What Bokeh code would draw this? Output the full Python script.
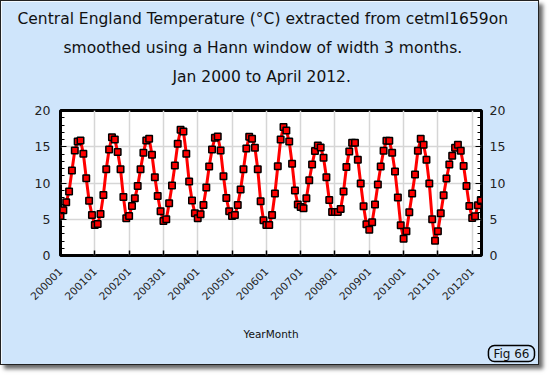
import math
from bokeh.plotting import figure
from bokeh.models import Range1d, FixedTicker, LinearAxis, Title, ColumnDataSource
from bokeh.embed import file_html
from bokeh.resources import INLINE

# Smoothed monthly CET (deg C), Jan 2000 .. Apr 2012
temps = [
    5.46, 6.23, 7.33, 8.84, 11.71, 14.50, 15.73, 15.87, 14.04, 10.66, 7.56, 5.59,   # 2000
    4.22, 4.36, 5.73, 8.33, 11.89, 14.63, 16.32, 16.00, 14.27, 11.89, 8.06, 5.14,   # 2001
    5.46, 6.83, 7.88, 9.57, 11.89, 14.18, 15.87, 16.10, 13.90, 10.80, 8.20, 6.10,   # 2002
    4.77, 5.00, 7.19, 9.66, 12.40, 15.41, 17.33, 17.10, 14.04, 10.20, 7.60, 5.82,   # 2003
    5.14, 5.70, 6.96, 9.38, 12.26, 14.63, 16.23, 16.42, 14.50, 10.94, 7.92, 6.10,   # 2004
    5.46, 5.59, 6.96, 9.11, 11.89, 14.77, 16.37, 16.10, 14.86, 11.89, 7.47, 4.86,   # 2005
    4.22, 4.22, 5.59, 8.56, 12.31, 16.00, 17.74, 17.24, 15.73, 12.67, 8.97, 7.05,   # 2006
    6.69, 6.51, 7.88, 10.39, 12.55, 14.40, 15.18, 14.90, 13.49, 10.80, 7.65, 6.00,  # 2007
    6.00, 6.00, 6.40, 8.84, 12.20, 14.36, 15.55, 15.55, 13.22, 9.93, 6.78, 4.32,    # 2008
    3.54, 4.59, 7.05, 9.79, 12.26, 14.45, 15.82, 15.82, 14.18, 11.58, 8.01, 4.18,   # 2009
    2.31, 3.36, 5.96, 8.56, 11.16, 14.45, 16.10, 15.27, 13.22, 9.93, 5.00, 2.03,    # 2010
    3.36, 5.82, 8.30, 10.62, 12.55, 13.77, 14.86, 15.27, 14.45, 12.35, 9.57, 6.83,  # 2011
    5.18, 5.41, 6.92, 7.65,                                                          # 2012
]
tick_labels = ["200001", "200101", "200201", "200301", "200401", "200501", "200601",
               "200701", "200801", "200901", "201001", "201101", "201201"]
y_ticks = [0, 5, 10, 15, 20]
title_lines = ["Central England Temperature (\u00b0C) extracted from cetml1659on",
               "smoothed using a Hann window of width 3 months.",
               "Jan 2000 to April 2012."]
x_title = "YearMonth"
fig_tag = "Fig 66"

FONT = "DejaVu Sans"
BG = "#cfe5fb"
TXT = "#111111"

months = list(range(len(temps)))
x_ticks = [12 * i for i in range(len(tick_labels))]
src = ColumnDataSource(dict(m=months, t=temps))

p = figure(width=539, height=365, output_backend="svg", toolbar_location=None,
           x_range=Range1d(0, 147.25), y_range=Range1d(0, 20),
           min_border_left=59, min_border_right=59, min_border_top=109,
           min_border_bottom=111)
p.styles = {"border": "1px solid #222222",
            "box-shadow": "4px 4px 4px #6a6a6a"}
p.border_fill_color = BG
p.background_fill_color = "white"
p.outline_line_color = "black"
p.outline_line_width = 3


def style_title(t, left_offset, standoff):
    t.align = "left"
    t.offset = left_offset
    t.text_font = FONT
    t.text_font_size = "15.5px"
    t.text_font_style = "normal"
    t.text_color = TXT
    t.standoff = standoff


# titles: the first one added sits nearest the frame, p.title is outermost
p.title.text = title_lines[0]
style_title(p.title, -43, 9)
spacer = Title(text=" ")
style_title(spacer, 0, 0)
p.add_layout(spacer, "above")
t3 = Title(text=title_lines[2])
style_title(t3, 112, 9)
p.add_layout(t3, "above")
t2 = Title(text=title_lines[1])
style_title(t2, 3, 9)
p.add_layout(t2, "above")

# x axis
xa = p.xaxis[0]
xa.ticker = FixedTicker(ticks=x_ticks)
xa.major_label_overrides = {t: l for t, l in zip(x_ticks, tick_labels)}
xa.major_label_orientation = math.pi / 4
xa.major_label_text_font = FONT
xa.major_label_text_font_size = "10.5px"
xa.major_label_text_color = "#222222"
xa.major_label_standoff = 14
xa.axis_line_color = None
xa.major_tick_in = 5
xa.major_tick_out = 0
xa.major_tick_line_width = 1.5
xa.minor_tick_line_color = None
xa.axis_label = x_title
xa.axis_label_text_font = FONT
xa.axis_label_text_font_size = "10.5px"
xa.axis_label_text_font_style = "normal"
xa.axis_label_text_color = TXT
xa.axis_label_standoff = 22

# left y axis
ya = p.yaxis[0]
ya.ticker = FixedTicker(ticks=y_ticks, minor_ticks=list(range(0, 21)))
ya.major_label_text_font = FONT
ya.major_label_text_font_size = "12.5px"
ya.major_label_text_color = "#222222"
ya.major_label_standoff = 10
ya.axis_line_color = None
ya.major_tick_in = 6
ya.major_tick_out = 0
ya.minor_tick_in = 4
ya.minor_tick_out = 0

ra = LinearAxis(ticker=FixedTicker(ticks=y_ticks, minor_ticks=list(range(0, 21))))
ra.major_label_text_font = FONT
ra.major_label_text_font_size = "12.5px"
ra.major_label_text_color = "#222222"
ra.major_label_standoff = 8
ra.axis_line_color = None
ra.major_tick_in = 6
ra.major_tick_out = 0
ra.minor_tick_in = 4
ra.minor_tick_out = 0
p.add_layout(ra, "right")

# "Fig 66" tag
tag = Title(text=fig_tag, align="right", offset=-53, standoff=0,
            text_font=FONT, text_font_size="12px", text_font_style="normal",
            text_color=TXT, border_line_color="black", border_line_width=1.5,
            background_fill_color=BG, padding=(5, 1), border_radius=6)
p.add_layout(tag, "below")

p.xgrid.ticker = FixedTicker(ticks=x_ticks)
p.ygrid.ticker = FixedTicker(ticks=[5, 10, 15])
p.xgrid.grid_line_color = "#d6d6d6"
p.ygrid.grid_line_color = "#d6d6d6"
p.xgrid.grid_line_width = 1.5
p.ygrid.grid_line_width = 1.5

p.line("m", "t", source=src, line_color="red", line_width=3)
p.scatter("m", "t", source=src, marker="square", size=6.5, fill_color="red",
          line_color="black", line_width=1.5)

open("out.html", "w").write(file_html(p, INLINE))
